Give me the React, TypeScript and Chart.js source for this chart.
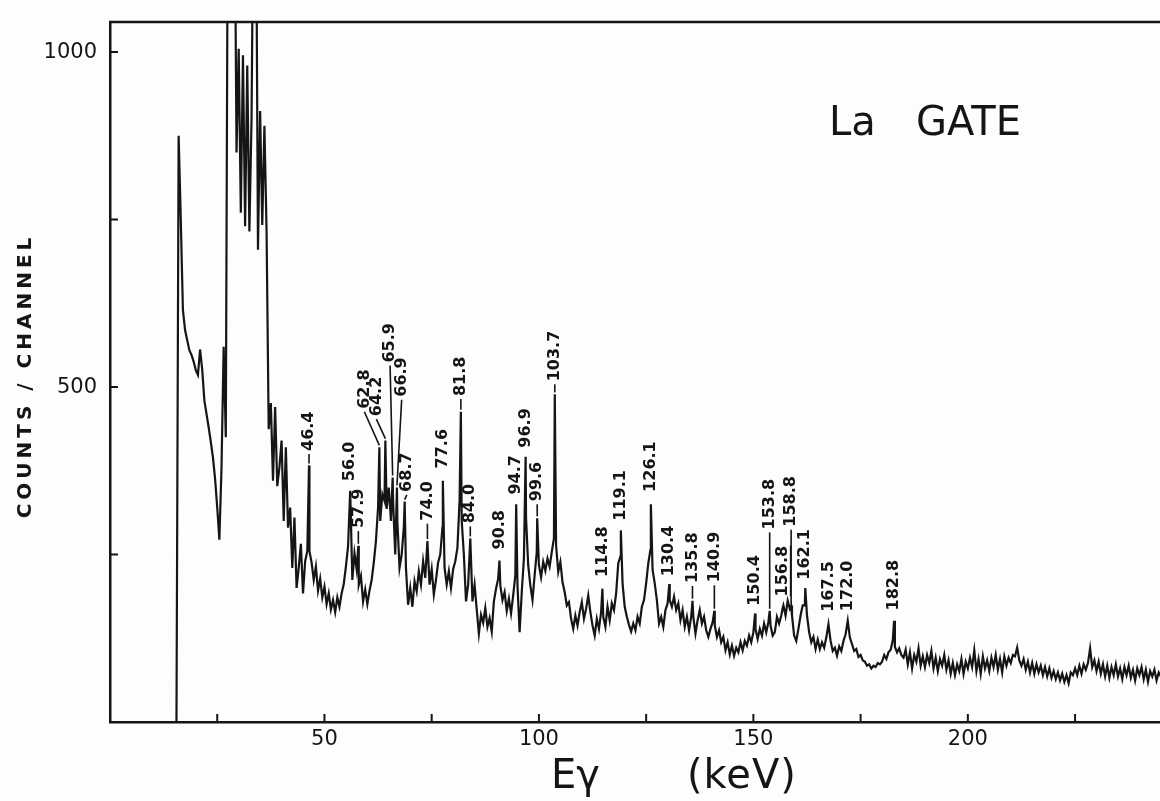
import React, { useEffect, useRef } from "react";
import { Chart, registerables } from "chart.js";

Chart.register(...registerables);

const INK = "#151515";
const FONT = '"DejaVu Sans", "Liberation Sans", sans-serif';

// Channel grid of the gated spectrum: 0.5 keV per channel, first channel at 15.0 keV
const GRID_START_KEV = 15.0;
const GRID_STEP_KEV = 0.5;

// counts per channel, 15.0 – 39.5 keV
const counts15to40 = [
  null, 0, 875, 750, 615, 585, 570, 555, 548, 538,
  525, 518, 556, 526, 480, 460, 440, 418, 395, 363,
  320, 272, 380, 560, 425, 1300, 1300, 1300, 1300, 850,
  1005, 760, 995, 740, 980, 732, 900, 1300, 1300, 705,
  912, 742, 890, 734, 437, 476, 360, 470, 352, 380,
];
// 40.0 – 64.5 keV
const counts40to65 = [
  420, 300, 410, 290, 320, 230, 305, 200, 230, 266,
  192, 240, 255, 255, 238, 212, 232, 196, 214, 186,
  202, 176, 192, 168, 182, 164, 186, 172, 192, 206,
  232, 262, 345, 212, 252, 228, 205, 218, 180, 198,
  176, 196, 212, 238, 270, 320, 300, 340, 330, 318,
];
// 65.0 – 89.5 keV
const counts65to90 = [
  350, 300, 330, 250, 300, 230, 250, 290, 230, 175,
  200, 172, 210, 195, 225, 205, 240, 215, 270, 205,
  228, 190, 212, 238, 250, 290, 230, 205, 225, 200,
  228, 240, 260, 330, 300, 250, 180, 205, 274, 180,
  205, 168, 132, 160, 148, 170, 142, 155, 135, 180,
];
// 90.0 – 114.5 keV
const counts90to115 = [
  199, 214, 204, 182, 194, 166, 184, 162, 189, 219,
  204, 134, 194, 244, 304, 234, 204, 182, 219, 254,
  234, 216, 239, 226, 244, 232, 254, 274, 264, 224,
  239, 209, 194, 174, 179, 154, 139, 159, 144, 164,
  179, 154, 169, 189, 164, 144, 129, 154, 139, 164,
];
// 115.0 – 139.5 keV
const counts115to140 = [
  157, 142, 172, 152, 177, 167, 192, 237, 247, 207,
  172, 157, 145, 135, 147, 137, 157, 147, 172, 182,
  207, 237, 257, 227, 207, 182, 147, 157, 142, 167,
  177, 182, 172, 187, 167, 177, 152, 167, 142, 157,
  137, 157, 157, 132, 152, 167, 147, 157, 137, 127,
];
// 140.0 – 164.5 keV
const counts140to165 = [
  139, 149, 144, 127, 137, 119, 127, 107, 119, 101,
  114, 99, 111, 104, 119, 107, 121, 114, 129, 119,
  134, 139, 124, 139, 129, 147, 134, 149, 144, 129,
  134, 157, 147, 159, 174, 159, 181, 169, 159, 129,
  121, 139, 159, 174, 174, 159, 134, 119, 127, 109,
];
// 165.0 – 189.5 keV
const counts165to190 = [
  123, 109, 119, 111, 126, 146, 121, 106, 111, 99,
  113, 106, 121, 131, 151, 126, 116, 106, 109, 97,
  100, 92, 90, 84, 86, 80, 84, 82, 88, 86,
  90, 100, 94, 104, 108, 122, 112, 104, 110, 100,
  96, 108, 86, 104, 80, 100, 90, 110, 84, 98,
];
// 190.0 – 214.5 keV
const counts190to215 = [
  82, 100, 88, 106, 80, 96, 76, 94, 84, 100,
  78, 92, 72, 88, 70, 86, 76, 94, 72, 90,
  80, 96, 82, 107, 76, 94, 72, 98, 80, 92,
  76, 96, 82, 100, 78, 94, 74, 98, 84, 96,
  88, 100, 98, 111, 92, 84, 94, 78, 90, 74,
];
// 215.0 – 239.5 keV
const counts215to240 = [
  88, 72, 86, 74, 84, 70, 82, 68, 80, 66,
  76, 64, 74, 62, 72, 60, 70, 58, 74, 70,
  80, 70, 84, 72, 86, 78, 88, 110, 82, 92,
  76, 90, 72, 86, 68, 84, 66, 82, 70, 86,
  68, 80, 64, 82, 70, 84, 66, 78, 62, 80,
];
// 240.0 – 245.0 keV
const counts240to245 = [70, 82, 64, 78, 60, 76, 68, 78, 62, 74, 68];

const channelCounts = [
  ...counts15to40,
  ...counts40to65,
  ...counts65to90,
  ...counts90to115,
  ...counts115to140,
  ...counts140to165,
  ...counts165to190,
  ...counts190to215,
  ...counts215to240,
  ...counts240to245,
];

// Identified gamma lines (keV) and the counts at the top of each line
const peakEnergies = [
  46.4, 56.0, 57.9, 62.8, 64.2, 65.9, 66.9, 68.7, 74.0, 77.6, 81.8, 84.0,
  90.8, 94.7, 96.9, 99.6, 103.7, 114.8, 119.1, 126.1, 130.4, 135.8, 140.9,
  150.4, 153.8, 156.8, 158.8, 162.1, 167.5, 172.0, 182.8,
];
const peakCounts = [
  383, 345, 263, 410, 420, 365, 350, 329, 270, 360, 463, 274,
  241, 325, 396, 304, 489, 199, 286, 325, 206, 181, 166,
  162, 166, 169, 174, 200, 146, 151, 151,
];
// Where each label sits: energy of the label column and the count level it starts at
const labelEnergies = [
  46.4, 56.0, 57.9, 59.3, 62.1, 65.3, 68.0, 69.2, 74.0, 77.6, 81.8, 84.0,
  90.8, 94.7, 96.9, 99.6, 103.7, 114.8, 119.1, 126.1, 130.4, 135.8, 140.9,
  150.4, 153.8, 156.8, 158.8, 162.1, 167.5, 172.0, 182.8,
];
const labelBases = [
  400, 355, 285, 463, 452, 532, 481, 339, 296, 374, 482, 292,
  253, 335, 405, 325, 504, 212, 296, 339, 213, 203, 204,
  169, 283, 183, 287, 208, 160, 161, 162,
];
const underlinedLabels = ["156.8"];

// Axis marks
const xMarkValues = [25, 50, 75, 100, 125, 150, 175, 200, 225];
const xLabelledValues = [50, 100, 150, 200];
const yMarkValues = [250, 500, 750, 1000];
const yLabelledValues = [500, 1000];

const spectrumPoints = (() => {
  const pts: { x: number; y: number | null }[] = [];
  channelCounts.forEach((c, i) => {
    const e = GRID_START_KEV + i * GRID_STEP_KEV;
    if (peakEnergies.some((p) => Math.abs(p - e) < 0.01)) return;
    pts.push({ x: e, y: c });
  });
  peakEnergies.forEach((e, i) => pts.push({ x: e, y: peakCounts[i] }));
  pts.sort((a, b) => a.x - b.x);
  return pts;
})();

const decorPlugin = {
  id: "spectrumDecor",
  beforeDraw(chart: any) {
    const { ctx, width, height } = chart;
    ctx.save();
    ctx.fillStyle = "#fdfdfd";
    ctx.fillRect(0, 0, width, height);
    ctx.restore();
  },
  afterDraw(chart: any) {
    const { ctx, chartArea, scales } = chart;
    const xs = scales.x;
    const ys = scales.y;
    ctx.save();
    ctx.strokeStyle = INK;
    ctx.fillStyle = INK;
    ctx.lineCap = "butt";

    // top frame
    ctx.lineWidth = 2.5;
    ctx.beginPath();
    ctx.moveTo(chartArea.left - 1, chartArea.top);
    ctx.lineTo(chartArea.right, chartArea.top);
    ctx.stroke();

    // inward tick marks
    ctx.lineWidth = 2;
    ctx.beginPath();
    xMarkValues.forEach((v) => {
      const px = xs.getPixelForValue(v);
      ctx.moveTo(px, chartArea.bottom);
      ctx.lineTo(px, chartArea.bottom - 8);
    });
    yMarkValues.forEach((v) => {
      const py = ys.getPixelForValue(v);
      ctx.moveTo(chartArea.left, py);
      ctx.lineTo(chartArea.left + 8, py);
    });
    ctx.stroke();

    // tick labels
    ctx.font = `21px ${FONT}`;
    ctx.textBaseline = "middle";
    ctx.textAlign = "center";
    xLabelledValues.forEach((v) => {
      ctx.fillText(String(v), xs.getPixelForValue(v), chartArea.bottom + 18);
    });
    ctx.textAlign = "right";
    yLabelledValues.forEach((v) => {
      ctx.fillText(String(v), chartArea.left - 13, ys.getPixelForValue(v) + 1);
    });

    // line labels with leaders
    ctx.font = `bold 16px ${FONT}`;
    ctx.textAlign = "left";
    ctx.textBaseline = "middle";
    peakEnergies.forEach((e, i) => {
      const text = e.toFixed(1);
      const px = xs.getPixelForValue(e);
      const py = ys.getPixelForValue(peakCounts[i]);
      const lx = xs.getPixelForValue(labelEnergies[i]);
      const ly = ys.getPixelForValue(labelBases[i]);
      if (labelBases[i] - peakCounts[i] > 14 || labelEnergies[i] !== e) {
        ctx.lineWidth = 1.6;
        ctx.beginPath();
        ctx.moveTo(px, py - 2);
        ctx.lineTo(lx, ly);
        ctx.stroke();
      }
      ctx.save();
      ctx.translate(lx, ly - 3);
      ctx.rotate(-Math.PI / 2);
      ctx.fillText(text, 0, 0);
      if (underlinedLabels.includes(text)) {
        const w = ctx.measureText(text).width;
        ctx.lineWidth = 1.4;
        ctx.beginPath();
        ctx.moveTo(0, 8);
        ctx.lineTo(w, 8);
        ctx.stroke();
      }
      ctx.restore();
    });

    // vertical axis title
    ctx.save();
    ctx.font = `bold 20px ${FONT}`;
    (ctx as any).letterSpacing = "4px";
    ctx.textAlign = "center";
    ctx.textBaseline = "middle";
    ctx.translate(26, (chartArea.top + chartArea.bottom) / 2 + 4);
    ctx.rotate(-Math.PI / 2);
    ctx.fillText("COUNTS / CHANNEL", 0, 0);
    ctx.restore();

    // horizontal axis title
    ctx.save();
    ctx.font = `40px ${FONT}`;
    ctx.textAlign = "left";
    ctx.textBaseline = "alphabetic";
    ctx.fillText("E\u03b3", 551, 788);
    (ctx as any).letterSpacing = "1px";
    ctx.fillText("(keV)", 687, 788);
    ctx.restore();

    // gate tag
    ctx.save();
    ctx.font = `40px ${FONT}`;
    ctx.textAlign = "left";
    ctx.textBaseline = "alphabetic";
    ctx.fillText("La", 829, 135);
    ctx.fillText("GATE", 916, 135);
    ctx.restore();

    ctx.restore();
  },
};

export default function App() {
  const canvasRef = useRef<HTMLCanvasElement>(null);

  useEffect(() => {
    const canvas = canvasRef.current;
    if (!canvas) return;
    const chart = new Chart(canvas, {
      type: "line",
      data: {
        datasets: [
          {
            data: spectrumPoints as any,
            borderColor: INK,
            borderWidth: 2.2,
            pointRadius: 0,
            tension: 0,
            spanGaps: false,
          },
        ],
      },
      options: {
        responsive: false,
        animation: false,
        devicePixelRatio: 1,
        layout: { padding: { top: 22, left: 0, right: 0, bottom: 0 } },
        plugins: { legend: { display: false }, tooltip: { enabled: false } },
        scales: {
          x: {
            type: "linear",
            min: 0,
            max: 244.8,
            grid: { display: false, drawTicks: false },
            border: { display: true, color: INK, width: 2.5 },
            ticks: { display: false },
            afterFit: (s: any) => {
              s.height = 79;
              s.paddingLeft = 0;
              s.paddingRight = 0;
            },
          },
          y: {
            type: "linear",
            min: 0,
            max: 1044.8,
            grid: { display: false, drawTicks: false },
            border: { display: true, color: INK, width: 2.5 },
            ticks: { display: false },
            afterFit: (s: any) => {
              s.width = 110;
              s.paddingTop = 0;
              s.paddingBottom = 0;
            },
          },
        },
      },
      plugins: [decorPlugin],
    });
    return () => chart.destroy();
  }, []);

  return (
    <div
      style={{
        position: "fixed",
        left: 0,
        top: 0,
        width: 1160,
        height: 801,
        overflow: "hidden",
        background: "#fdfdfd",
      }}
    >
      <canvas
        ref={canvasRef}
        width={1160}
        height={801}
        style={{ display: "block", width: 1160, height: 801 }}
      />
    </div>
  );
}
